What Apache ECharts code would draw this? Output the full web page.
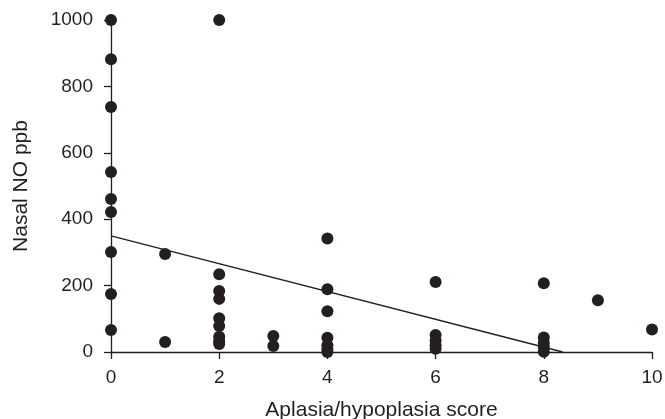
<!DOCTYPE html>
<html><head><meta charset="utf-8">
<script src="https://cdn.jsdelivr.net/npm/echarts@6/dist/echarts.min.js"></script>
<style>html,body{margin:0;padding:0;background:#fff}#c{width:665px;height:419px}</style>
</head><body><div id="c"></div>
<script>
const scoreX = [0,0,0,0,0,0,0,0,0, 1,1, 2,2,2,2,2,2,2,2,2, 3,3, 4,4,4,4,4,4,4, 6,6,6,6,6, 8,8,8,8,8, 9, 10];
const nasalNO = [1000,882,738,542,461,422,301,175,66, 295,30, 1000,234,184,160,102,78,46,33,24, 48,18, 342,189,123,43,20,8,0, 211,51,35,20,10, 207,44,27,15,1, 156, 68];
const lineX = [0, 8.35];
const lineY = [350, 0];
const xTicks = [0,2,4,6,8,10];
const yTicks = [0,200,400,600,800,1000];

const pts = scoreX.map((x,i)=>[x, nasalNO[i]]);
const linePts = lineX.map((x,i)=>[x, lineY[i]]);
const font = '"Liberation Sans", Arial, sans-serif';
const ink = '#231f20';
const chart = echarts.init(document.getElementById('c'), null, {renderer:'canvas'});
chart.setOption({
  animation:false,
  grid:{left:111, right:13, top:20, bottom:67, containLabel:false, outerBoundsMode:'none'},
  xAxis:{type:'value', min:xTicks[0], max:xTicks[xTicks.length-1], interval:xTicks[1]-xTicks[0],
    name:'Aplasia/hypoplasia score', nameLocation:'middle', nameGap:48,
    nameTextStyle:{color:ink, fontSize:21, fontFamily:font},
    axisLine:{onZero:false, lineStyle:{color:ink, width:1.3}},
    axisTick:{show:true, length:7, lineStyle:{color:ink, width:1.3}},
    axisLabel:{color:ink, fontSize:19, fontFamily:font, margin:16, formatter:v=>String(v)},
    splitLine:{show:false}},
  yAxis:{type:'value', min:yTicks[0], max:yTicks[yTicks.length-1], interval:yTicks[1]-yTicks[0],
    name:'Nasal NO ppb', nameLocation:'middle', nameGap:79,
    nameTextStyle:{color:ink, fontSize:21, fontFamily:font},
    axisLine:{show:true, lineStyle:{color:ink, width:1.3}},
    axisTick:{show:true, length:7, lineStyle:{color:ink, width:1.3}},
    axisLabel:{color:ink, fontSize:19, fontFamily:font, margin:18, formatter:v=>String(v)},
    splitLine:{show:false}},
  series:[
    {type:'line', data:linePts, symbol:'none', lineStyle:{color:ink, width:1.3}, z:1},
    {type:'scatter', data:pts, symbol:'circle', symbolSize:12, itemStyle:{color:ink, opacity:1}, z:3}
  ]
});
</script></body></html>
